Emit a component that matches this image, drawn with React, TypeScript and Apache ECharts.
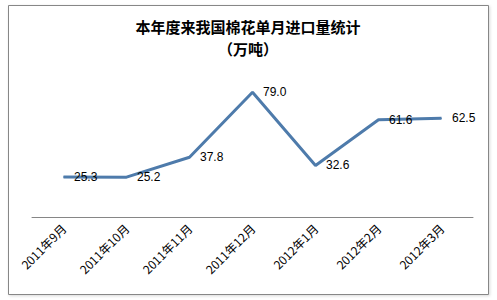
import React, { useEffect, useRef } from "react";
import * as echarts from "echarts";

const categories = ["2011年9月", "2011年10月", "2011年11月", "2011年12月", "2012年1月", "2012年2月", "2012年3月"];
const values = [25.3, 25.2, 37.8, 79.0, 32.6, 61.6, 62.5];
const titleLine1 = "本年度来我国棉花单月进口量统计";
const titleLine2 = "（万吨）";

export default function App() {
  const ref = useRef<HTMLDivElement>(null);
  useEffect(() => {
    if (!ref.current) return;
    const chart = echarts.init(ref.current, null, { renderer: "svg" });
    chart.setOption({
      animation: false,
      backgroundColor: "#ffffff",
      graphic: [
        {
          type: "rect",
          shape: { x: 8.5, y: 5.5, width: 480, height: 289 },
          style: { fill: "#ffffff", stroke: "#878787", lineWidth: 1, shadowBlur: 3, shadowColor: "rgba(0,0,0,0.15)", shadowOffsetX: 1, shadowOffsetY: 1 },
          z: -10,
        },
        {
          type: "text",
          x: 248,
          y: 26,
          style: {
            text: titleLine1,
            font: "bold 15px 'Noto Sans CJK SC', sans-serif",
            fill: "#000000",
            align: "center",
            verticalAlign: "middle",
          },
        },
        {
          type: "text",
          x: 248,
          y: 48,
          style: {
            text: titleLine2,
            font: "bold 15px 'Noto Sans CJK SC', sans-serif",
            fill: "#000000",
            align: "center",
            verticalAlign: "middle",
          },
        },
      ],
      grid: { left: 32, right: 24, top: 59, bottom: 83, containLabel: false },
      xAxis: {
        type: "category",
        data: categories,
        boundaryGap: true,
        axisLine: { show: true, lineStyle: { color: "#868686", width: 1 } },
        axisTick: { show: false },
        axisLabel: {
          rotate: 45,
          interval: 0,
          margin: 9,
          color: "#000000",
          fontSize: 12,
          fontFamily: "'Noto Sans CJK SC', 'Liberation Sans', sans-serif",
        },
      },
      yAxis: {
        type: "value",
        min: 0,
        max: 100,
        show: false,
        splitLine: { show: false },
      },
      series: [
        {
          type: "line",
          data: values,
          symbol: "circle",
          symbolSize: 1,
          showSymbol: true,
          itemStyle: { color: "#4e7bab" },
          lineStyle: { color: "#4e7bab", width: 3 },
          label: {
            show: true,
            position: "right",
            distance: 10,
            color: "#000000",
            fontSize: 12,
            fontFamily: "'Liberation Sans', sans-serif",
            formatter: (p: any) => Number(p.value).toFixed(1),
          },
        },
      ],
    });
    return () => chart.dispose();
  }, []);
  return <div ref={ref} style={{ position: "absolute", left: 0, top: 0, width: 497, height: 300 }} />;
}
